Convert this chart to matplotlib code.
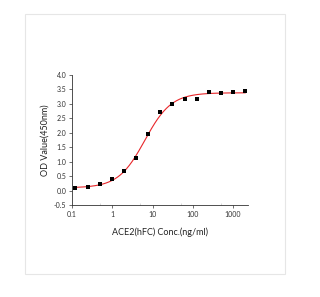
import numpy as np
import matplotlib
matplotlib.use("Agg")
import matplotlib.pyplot as plt
from matplotlib.patches import Rectangle
from matplotlib.ticker import LogLocator, FixedLocator, NullFormatter, FixedFormatter

conc = [0.122, 0.244, 0.488, 0.977, 1.95, 3.91, 7.81, 15.6, 31.25, 62.5, 125, 250, 500, 1000, 2000]
od = [0.08, 0.11, 0.22, 0.40, 0.69, 1.13, 1.95, 2.71, 3.00, 3.18, 3.16, 3.42, 3.39, 3.42, 3.43]
xticks = [0.1, 1, 10, 100, 1000]
xticklabels = ["0.1", "1", "10", "100", "1000"]
yticks = [-0.5, 0.0, 0.5, 1.0, 1.5, 2.0, 2.5, 3.0, 3.5, 4.0]

# 4PL fit to the data (grid search on EC50 and Hill, linear LS for bottom/top)
x = np.array(conc); y = np.array(od)
best = None
for lec in np.linspace(np.log10(2), np.log10(20), 200):
    for h in np.linspace(0.8, 2.0, 121):
        f = 1.0 / (1.0 + (10**lec / x) ** h)
        A = np.vstack([1 - f, f]).T
        coef, *_ = np.linalg.lstsq(A, y, rcond=None)
        r = np.sum((A @ coef - y) ** 2)
        if best is None or r < best[0]:
            best = (r, lec, h, coef)
_, lec, h, (bot, top) = best
xf = np.logspace(np.log10(0.122), np.log10(2000), 300)
ff = 1.0 / (1.0 + (10**lec / xf) ** h)
yf = bot * (1 - ff) + top * ff

plt.rcParams['font.family'] = ['Lato', 'DejaVu Sans']
fig = plt.figure(figsize=(3.2, 2.97), dpi=100)
fig.patches.append(Rectangle((25/320, 1-274/297), 260/320, 260/297, transform=fig.transFigure,
                             fill=False, edgecolor='#e6e6e6', linewidth=0.8))
ax = fig.add_axes([72/320, 1-205/297, 176/320, 130/297])
ax.plot(xf, yf, color='#e8262a', linewidth=0.8, zorder=2)
ax.scatter(conc, od, marker='s', s=5, color='black', linewidths=0, zorder=3)
ax.set_xscale('log')
ax.set_xlim(0.1, 2350)
ax.set_ylim(-0.5, 4.0)
ax.xaxis.set_major_locator(FixedLocator(xticks))
ax.xaxis.set_major_formatter(FixedFormatter(xticklabels))
ax.xaxis.set_minor_locator(LogLocator(base=10, subs=[5]))
ax.xaxis.set_minor_formatter(NullFormatter())
ax.set_yticks(yticks)
ax.set_yticklabels([f"{v:.1f}" for v in yticks])
for s in ['top', 'right']:
    ax.spines[s].set_visible(False)
for s in ['left', 'bottom']:
    ax.spines[s].set_linewidth(0.6)
    ax.spines[s].set_color('#333333')
ax.tick_params(axis='both', which='major', labelsize=5, length=2.5, width=0.5, pad=1.5, colors='#333333')
ax.tick_params(axis='x', which='minor', length=1.5, width=0.4, direction='in', colors='#bbbbbb')
ax.set_xlabel("ACE2(hFC) Conc.(ng/ml)", fontsize=6.5, labelpad=7, color='#222222')
ax.set_ylabel("OD Value(450nm)", fontsize=6.5, labelpad=3, color='#222222')
fig.savefig("out.png", dpi=100, facecolor='white')
